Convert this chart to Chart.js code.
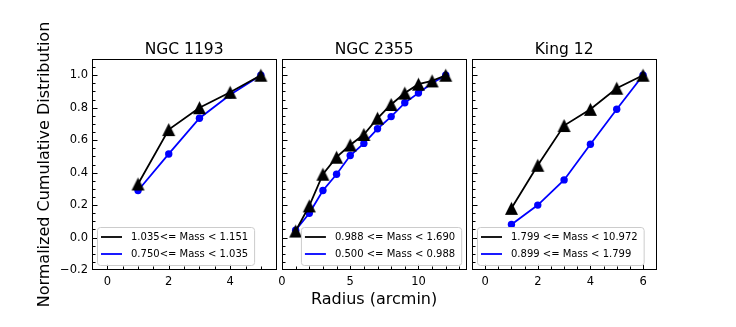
<!DOCTYPE html>
<html>
<head>
<meta charset="utf-8">
<script src="https://cdn.jsdelivr.net/npm/chart.js@4"></script>
<style>
  html, body { margin: 0; padding: 0; background: #fff; }
  body { width: 736px; height: 327px; position: relative; overflow: hidden; }
  .panel { position: absolute; top: 0; height: 327px; }
</style>
</head>
<body>
<div class="panel" style="left:0;width:284px"><canvas id="c1"></canvas></div>
<div class="panel" style="left:272px;width:202px"><canvas id="c2"></canvas></div>
<div class="panel" style="left:462px;width:202px"><canvas id="c3"></canvas></div>
<script>
// valeurs
const titles = ['NGC 1193', 'NGC 2355', 'King 12'];

const radius1193 = [1, 2, 3, 4, 5];
const high1193 = [0.33, 0.665, 0.80, 0.895, 1.0];
const low1193 = [0.29, 0.515, 0.735, 0.88, 1.0];
const labels1193 = ['1.035<= Mass < 1.151', '0.750<= Mass < 1.035'];

const radius2355 = [1, 2, 3, 4, 5, 6, 7, 8, 9, 10, 11, 12];
const high2355 = [0.04, 0.195, 0.39, 0.495, 0.57, 0.635, 0.735, 0.82, 0.89, 0.945, 0.965, 1.0];
const low2355 = [0.045, 0.15, 0.29, 0.39, 0.505, 0.58, 0.67, 0.745, 0.83, 0.89, 0.95, 1.0];
const labels2355 = ['0.988 <= Mass < 1.690', '0.500 <= Mass < 0.988'];

const radiusKing12 = [1, 2, 3, 4, 5, 6];
const highKing12 = [0.18, 0.445, 0.69, 0.79, 0.92, 1.0];
const lowKing12 = [0.08, 0.2, 0.355, 0.575, 0.79, 1.0];
const labelsKing12 = ['1.799 <= Mass < 10.972', '0.899 <= Mass < 1.799'];

const yTicks = [-0.2, 0.0, 0.2, 0.4, 0.6, 0.8, 1.0];
const xTicks1193 = [0, 2, 4];
const xTicks2355 = [0, 5, 10];
const xTicksKing12 = [0, 2, 4, 6];

Chart.defaults.font.family = '"DejaVu Sans", sans-serif';
Chart.defaults.color = '#000';

function triangle(size) {
  const c = document.createElement('canvas');
  c.width = size + 2; c.height = size + 2;
  const g = c.getContext('2d');
  g.fillStyle = '#000';
  g.beginPath();
  g.moveTo(c.width / 2, 1);
  g.lineTo(size + 1, size + 1);
  g.lineTo(1, size + 1);
  g.closePath();
  g.fill();
  return c;
}
const tri = triangle(13);

// cadre, graduations vers l'intérieur, titre et légende
const deco = {
  id: 'deco',
  afterDraw(chart, args, o) {
    const { ctx, chartArea: a, scales: { x, y } } = chart;
    ctx.save();
    ctx.strokeStyle = '#000';
    ctx.lineWidth = 1;
    const L = Math.round(a.left) + 0.5, B = Math.round(a.bottom) - 0.5;
    // y ticks (left side)
    for (let v = y.min; v <= y.max + 1e-9; v += 0.05) {
      const major = yTicks.some(t => Math.abs(t - v) < 1e-6);
      const py = Math.round(y.getPixelForValue(v)) + 0.5;
      if (py < a.top + 1 || py > a.bottom - 1) continue;
      ctx.beginPath(); ctx.moveTo(L, py); ctx.lineTo(L + (major ? 5 : 3), py); ctx.stroke();
    }
    // x ticks (bottom side)
    for (let v = Math.ceil(x.min / o.xMinor) * o.xMinor; v <= x.max + 1e-9; v += o.xMinor) {
      const major = o.xMajor.some(t => Math.abs(t - v) < 1e-6);
      const px = Math.round(x.getPixelForValue(v)) + 0.5;
      if (px < a.left + 1 || px > a.right - 1) continue;
      ctx.beginPath(); ctx.moveTo(px, B); ctx.lineTo(px, B - (major ? 5 : 3)); ctx.stroke();
    }
    ctx.strokeRect(L, Math.round(a.top) + 0.5, Math.round(a.right) - Math.round(a.left), Math.round(a.bottom) - Math.round(a.top) - 1);

    // titre
    ctx.fillStyle = '#000';
    ctx.font = '15.5px "DejaVu Sans"';
    ctx.textAlign = 'center';
    ctx.textBaseline = 'alphabetic';
    ctx.fillText(o.title, (a.left + a.right) / 2, 54);

    // légende
    ctx.font = '10px "DejaVu Sans"';
    const items = chart.data.datasets;
    const tw = Math.max(...items.map(d => ctx.measureText(d.label).width));
    const w = 4 + 21 + 9 + tw + 6, h = 38;
    const bx = o.legend === 'right' ? a.right - 5 - w : a.left + 5;
    const by = a.bottom - 5 - h;
    ctx.beginPath();
    ctx.roundRect(bx + 0.5, by + 0.5, w, h, 3);
    ctx.fillStyle = 'rgba(255,255,255,0.8)';
    ctx.fill();
    ctx.strokeStyle = '#cccccc';
    ctx.stroke();
    ctx.textAlign = 'left';
    ctx.textBaseline = 'middle';
    items.forEach((d, i) => {
      const ry = by + 10 + i * 17;
      ctx.strokeStyle = d.borderColor;
      ctx.lineWidth = 1.8;
      ctx.beginPath(); ctx.moveTo(bx + 4, ry); ctx.lineTo(bx + 25, ry); ctx.stroke();
      ctx.fillStyle = '#000';
      ctx.fillText(d.label, bx + 34, ry + 0.5);
    });
    ctx.restore();
  }
};

function makePanel(id, idx, radius, high, low, labels, xTicks, xMin, xMax, xMinor, legend) {
  const first = idx === 0;
  new Chart(document.getElementById(id), {
    type: 'line',
    data: {
      datasets: [{
        label: labels[0],
        data: radius.map((r, i) => ({ x: r, y: high[i] })),
        borderColor: '#000000',
        backgroundColor: '#000000',
        borderWidth: 1.8,
        pointStyle: tri,
        pointRadius: 6,
        tension: 0,
        order: 0
      }, {
        label: labels[1],
        data: radius.map((r, i) => ({ x: r, y: low[i] })),
        borderColor: '#0000ff',
        backgroundColor: '#0000ff',
        borderWidth: 1.8,
        pointStyle: 'circle',
        pointRadius: 3.7,
        pointBorderWidth: 0,
        tension: 0,
        order: 1
      }]
    },
    options: {
      animation: false,
      responsive: true,
      maintainAspectRatio: false,
      devicePixelRatio: 1,
      layout: { padding: { top: 59, left: first ? 0 : 10, right: 2, bottom: 0 } },
      plugins: {
        legend: { display: false },
        tooltip: { enabled: false },
        deco: { title: titles[idx], xMajor: xTicks, xMinor: xMinor, legend: legend }
      },
      scales: {
        x: {
          type: 'linear',
          min: xMin,
          max: xMax,
          grid: { display: false, drawTicks: false },
          border: { display: false },
          afterBuildTicks: s => { s.ticks = xTicks.map(v => ({ value: v })); },
          afterFit: s => { s.height = 57; s.paddingLeft = 0; s.paddingRight = 0; },
          ticks: { font: { size: 11.5 }, padding: 5, maxRotation: 0, autoSkip: false, callback: v => String(v) },
          title: {
            display: idx === 1,
            text: 'Radius (arcmin)',
            font: { size: 16 },
            padding: { top: 0, bottom: 18 }
          }
        },
        y: {
          display: first,
          min: -0.2,
          max: 1.1,
          grid: { display: false, drawTicks: false },
          border: { display: false },
          afterBuildTicks: s => { s.ticks = yTicks.map(v => ({ value: v })); },
          afterFit: s => {
            s.width = first ? 92 : 0;
            s.paddingTop = 0; s.paddingBottom = 0;
          },
          ticks: { font: { size: 11.5 }, padding: 4, callback: v => v.toFixed(1).replace('-', '\u2212') },
          title: {
            display: true,
            text: 'Normalized Cumulative Distribution',
            font: { size: 16 },
            padding: { top: 35, bottom: 0 }
          }
        }
      }
    },
    plugins: [deco]
  });
}

makePanel('c1', 0, radius1193, high1193, low1193, labels1193, xTicks1193, -0.5, 5.5, 0.5, 'left');
makePanel('c2', 1, radius2355, high2355, low2355, labels2355, xTicks2355, 0, 13.5, 1, 'right');
makePanel('c3', 2, radiusKing12, highKing12, lowKing12, labelsKing12, xTicksKing12, -0.5, 6.5, 0.5, 'left');
</script>
</body>
</html>
